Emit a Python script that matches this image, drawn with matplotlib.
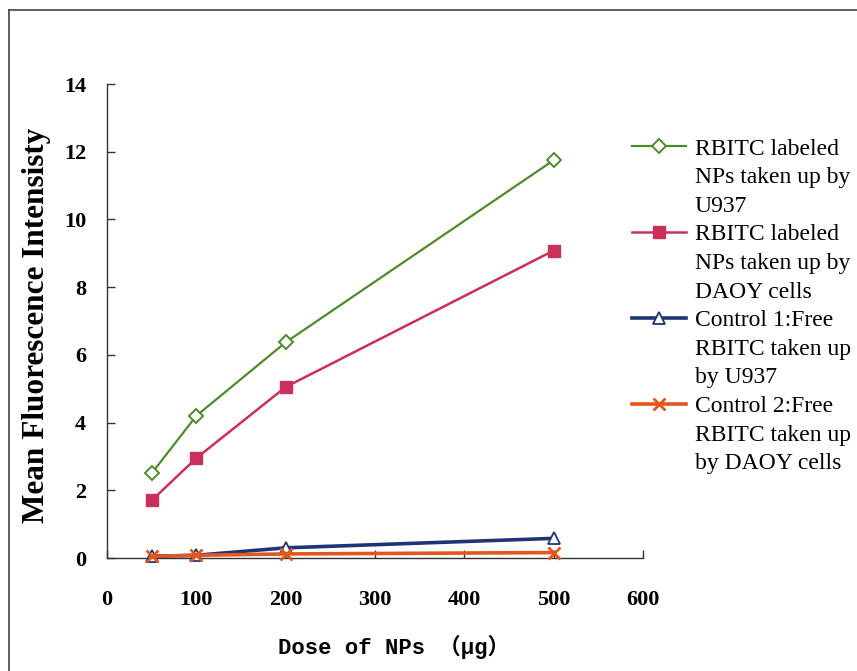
import matplotlib
matplotlib.use("Agg")
import matplotlib.pyplot as plt
from matplotlib.lines import Line2D

# ---- data ----
doses = [50, 100, 200, 500]
u937_nps = [2.5, 4.2, 6.37, 11.75]
daoy_nps = [1.7, 2.95, 5.05, 9.08]
ctrl1_u937 = [0.05, 0.08, 0.3, 0.58]
ctrl2_daoy = [0.05, 0.08, 0.12, 0.16]

x_ticks = [0, 100, 200, 300, 400, 500, 600]
y_ticks = [0, 2, 4, 6, 8, 10, 12, 14]

legend_lines = [
    ["RBITC labeled", "NPs taken up by", "U937"],
    ["RBITC labeled", "NPs taken up by", "DAOY cells"],
    ["Control 1:Free", "RBITC taken up", "by U937"],
    ["Control 2:Free", "RBITC taken up", "by DAOY cells"],
]

W, H = 857, 671
fig = plt.figure(figsize=(W / 100, H / 100), dpi=100)
fig.patch.set_facecolor("white")

ax = fig.add_axes([107 / W, 1 - 558 / H, (643 - 107) / W, (558 - 84) / H])

green = "#4f8a2b"
red = "#c9305a"
blue = "#1f3476"
orange = "#e2561f"

l1, = ax.plot(doses, u937_nps, color=green, lw=1.6, marker="D", ms=7,
              mfc="white", mec=green, mew=1.4, clip_on=False, zorder=4)
l2, = ax.plot(doses, daoy_nps, color=red, lw=1.8, marker="s", ms=8.5,
              mfc=red, mec=red, clip_on=False, zorder=4)
l3, = ax.plot(doses, ctrl1_u937, color=blue, lw=2.6, marker="^", ms=9,
              mfc="white", mec=blue, mew=1.3, clip_on=False, zorder=3)
l4, = ax.plot(doses, ctrl2_daoy, color=orange, lw=2.6, marker="x", ms=9,
              mec=orange, mew=2, clip_on=False, zorder=5)

ax.set_xlim(0, 600)
ax.set_ylim(0, 14)
ax.set_xticks(x_ticks)
ax.set_yticks(y_ticks)
for s in ["top", "right"]:
    ax.spines[s].set_visible(False)
for s in ["left", "bottom"]:
    ax.spines[s].set_color("#333333")
    ax.spines[s].set_linewidth(1.0)
ax.tick_params(axis="both", direction="in", length=6, width=1.0, color="#333333")
ax.tick_params(axis="y", pad=15)
ax.tick_params(axis="x", pad=23)
for lab in ax.get_xticklabels() + ax.get_yticklabels():
    lab.set_fontfamily("Liberation Serif")
    lab.set_fontweight("bold")
    lab.set_fontsize(16)

fig.text(37 / W, 1 - 325 / H, "Mean Fluorescence Intensisty", rotation=90,
         fontfamily="Liberation Serif", fontweight="bold", fontsize=22.5,
         ha="center", va="center")

fig.text(394 / W, 1 - 647 / H, "Dose of NPs （μg）",
         fontfamily=["Liberation Mono", "Noto Sans CJK SC"], fontweight="bold",
         fontsize=16, ha="center", va="center")

# legend: first row of each entry carries the handle
handles, labels = [], []
for line, rows in zip([l1, l2, l3, l4], legend_lines):
    for i, r in enumerate(rows):
        handles.append(line if i == 0 else Line2D([], [], linestyle="none", marker="none"))
        labels.append(r)
leg = fig.legend(handles, labels, loc="upper left",
                 bbox_to_anchor=(632 / W, 1 - 138 / H), bbox_transform=fig.transFigure,
                 frameon=False, borderpad=0, borderaxespad=0, labelspacing=0.3,
                 handlelength=2.3, handletextpad=0.35, handleheight=0.7,
                 prop={"family": "Liberation Serif", "size": 17})

# chart border (scanned frame)
fig.add_artist(Line2D([9 / W, 1.0], [1 - 10 / H, 1 - 10 / H], transform=fig.transFigure,
                      color="#444444", lw=1.2))
fig.add_artist(Line2D([9 / W, 9 / W], [0.0, 1 - 10 / H], transform=fig.transFigure,
                      color="#444444", lw=1.2))

fig.savefig("out.png", dpi=100)
